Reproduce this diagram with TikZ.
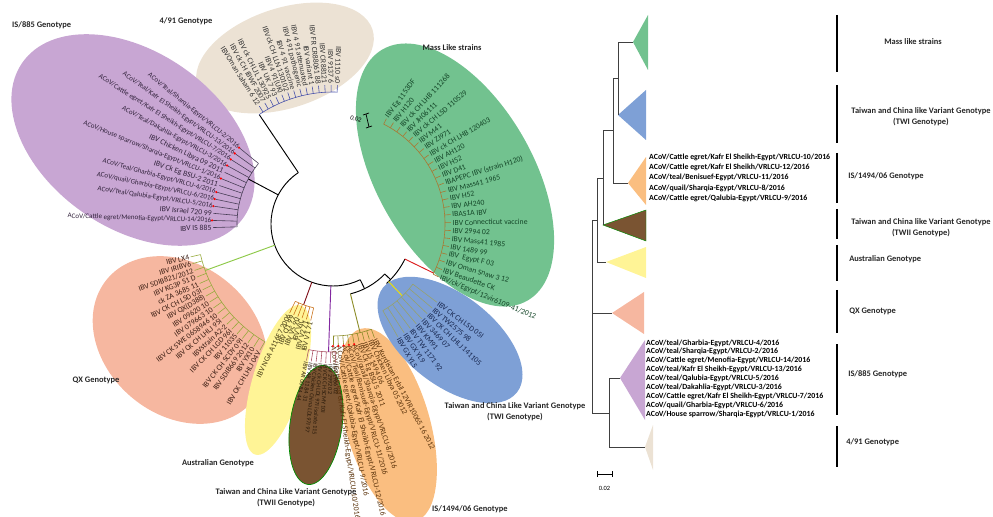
\documentclass[tikz,border=0pt]{standalone}
\usepackage{fontspec}
\setmainfont{Carlito}
\usetikzlibrary{positioning}
% clade fills
\definecolor{c885}{RGB}{200,166,211}
\definecolor{c491}{RGB}{236,226,212}
\definecolor{cmass}{RGB}{114,194,143}
\definecolor{ctwi}{RGB}{126,160,214}
\definecolor{cqx}{RGB}{246,183,160}
\definecolor{caus}{RGB}{255,244,150}
\definecolor{ctwii}{RGB}{122,84,50}
\definecolor{c1494}{RGB}{250,190,128}
% branches
\definecolor{b885}{RGB}{70,60,85}
\definecolor{b491}{RGB}{70,80,170}
\definecolor{bmass}{RGB}{170,120,50}
\definecolor{bqx}{RGB}{150,170,60}
\definecolor{btwi}{RGB}{150,160,110}
\definecolor{baus}{RGB}{200,110,20}
\definecolor{btwii}{RGB}{170,80,100}
\definecolor{b1494}{RGB}{140,140,40}
% stems
\definecolor{smass}{RGB}{220,30,30}
\definecolor{stwi}{RGB}{240,225,0}
\definecolor{stwii}{RGB}{130,40,160}
\definecolor{saus}{RGB}{130,20,30}
\definecolor{sqx}{RGB}{140,200,70}
% leaf text
\definecolor{t885}{RGB}{50,35,60}
\definecolor{t491}{RGB}{50,50,50}
\definecolor{tmass}{RGB}{20,70,40}
\definecolor{ttwi}{RGB}{25,40,80}
\definecolor{tqx}{RGB}{60,30,20}
\definecolor{taus}{RGB}{70,60,20}
\definecolor{ttwii}{RGB}{40,25,10}
\definecolor{t1494}{RGB}{90,50,10}
\newcommand\acov{\fontsize{6}{6}\selectfont}
\begin{document}
\begin{tikzpicture}[x=0.03cm,y=-0.03cm,
  leaf/.style={font=\fontsize{6.6}{7}\selectfont,inner sep=0.4pt},
  rleaf/.style={font=\bfseries\fontsize{6.7}{7}\selectfont,inner sep=0pt,anchor=west},
  grp/.style={font=\bfseries\fontsize{7.2}{9.4}\selectfont,inner sep=0pt,text=black!85},
  twig/.style={line width=0.5pt},
  spine/.style={line width=0.8pt,black},
  stem/.style={line width=0.8pt},
  bar/.style={line width=1pt,black}]
\useasboundingbox (0,0) rectangle (993,517);

% clade ellipses
\fill[c491,rotate around={18:(285,58)}] (285,58) ellipse (92 and 50);
\fill[c885,rotate around={-35:(133,140)}] (133,140) ellipse (135 and 88);
\fill[cqx,rotate around={-40:(180,340)}] (180,340) ellipse (95 and 75);
\fill[caus,rotate around={73:(278,380)}] (278,380) ellipse (78 and 25);
\fill[c1494,rotate around={-74:(388,425)}] (388,425) ellipse (100 and 42);
\filldraw[ctwii,draw=green!55!black,line width=0.6pt,rotate around={82:(316,425)}] (316,425) ellipse (60 and 26);
\fill[ctwi,rotate around={-38:(450,340)}] (450,340) ellipse (85 and 45);
\fill[cmass,rotate around={-60:(455,175)}] (455,175) ellipse (145 and 78);

% circular tree, centre of the circle at (333,224)
\begin{scope}[shift={(333,224)},y=0.03cm]
\draw[spine] (124:62) arc[start angle=124,end angle=296,radius=62];
\draw[spine] (124:62) -- (124:132);
\draw[spine] (152:62) -- (152:96);
\draw[spine] (296:62) -- (296:72);
\draw[spine] (284:72) arc[start angle=284,end angle=316,radius=72];
\draw[spine] (316:72) -- (316:80);
\draw[spine] (312:80) arc[start angle=312,end angle=334,radius=80];
\draw[stem,sqx] (200:62) -- (200:136);
\draw[stem,saus] (250:62) -- (250:86);
\draw[stem,stwii] (268:62) -- (268:128);
\draw[stem,b1494] (284:72) -- (284:112);
\draw[stem,stwi] (314:80) -- (314:100);
\draw[stem,smass] (334:80) -- (334:112);

% IS/885
\draw[twig,b885] (140.9:96) arc[start angle=140.9,end angle=181.7,radius=96];
\foreach \t [count=\i] in {{\acov ACoV/Teal/Sharqia-Egypt/VRLCU-2/2016},
  {\acov ACoV/Teal/Kafr El Sheikh-Egypt/VRLCU-13/2016},
  {\acov ACoV/Cattle egret/Kafr El Sheikh-Egypt/VRLCU-7/2016},
  {\acov ACoV/Teal/Dakahlia-Egypt/VRLCU-3/2016},{IBV Chicken Libya 09 2011},
  {\acov ACoV/House sparrow/Sharqia-Egypt/VRLCU-1/2016},{IBV Ck Eg BSU-2 2011},
  {\acov ACoV/Teal/Gharbia-Egypt/VRLCU-4/2016},{\acov ACoV/quail/Gharbia-Egypt/VRLCU-6/2016},
  {\acov ACoV/Teal/Qalubia-Egypt/VRLCU-5/2016},{IBV Israel 720 99},
  {\acov ACoV/Cattle egret/Menofia-Egypt/VRLCU-14/2016},{IBV IS 885}}{
  \pgfmathsetmacro\ang{137.5+3.4*\i}
  \draw[twig,b885] (\ang:96) -- (\ang:120);
  \node[leaf,text=t885,anchor=east,rotate=\ang+180] (l885-\i) at (\ang:121) {\t};
}
% 4/91
\draw[twig,b491] (88:132) arc[start angle=88,end angle=124,radius=132];
\foreach \t [count=\i] in {{IBVOman Saham 6 12},{IBV ck CH IBWF 2007},
  {IBV ck CH LJL 130925},{IBV UK 7 93},{IBV 4 91(UK)},{IBV ck CH LLN 130102},
  {IBV 4 91 vaccine},{IBV 4 91 pathogenic},{IBV 4 91 attenuated},
  {IBV variant 1},{IBV FR CR88061 88},{IBV CR88121},{IBV 9137 6},{IBV 1110 s0}}{
  \pgfmathsetmacro\ang{124.6-2.6*\i}
  \draw[twig,b491] (\ang:132) -- (\ang:139);
  \node[leaf,text=t491,anchor=east,rotate=\ang+180] (l491-\i) at (\ang:140) {\t};
}
% Mass like
\draw[twig,bmass] (-26.6:112) arc[start angle=-26.6,end angle=63.1,radius=112];
\foreach \t [count=\i] in {{IBV Eg 1153DF},{IBV H120},{IBV ck CH LHB 111268},
  {IBV JH06111},{IBV ck CH LSD 110529},{IBV M41},{IBV ZJ971},
  {IBV ck CH LHB 120403},{IBV AH120},{IBV H52},{IBV D41},
  {IBAPEPC IBV (strain H120)},{IBV Mass41 1965},{IBV H52},{IBV AH240},
  {IBAS1A IBV},{IBV Connecticut vaccine},{IBV 2994 02},{IBV Mass41 1985},
  {IBV 1489 99},{IBV \ Egypt F 03},{IBV Oman Snaw 3 12},{IBV Beaudette CK},
  {IBV/ck/Egypt/12vir6109-41/2012}}{
  \pgfmathsetmacro\ang{67-3.9*\i}
  \draw[twig,bmass] (\ang:112) -- (\ang:118);
  \node[leaf,text=tmass,anchor=west,rotate=0.85*\ang] (lmass-\i) at (\ang:119) {\t};
}
% TWI
\draw[twig,btwi] (-60.1:100) arc[start angle=-60.1,end angle=-37,radius=100];
\foreach \t [count=\i] in {{IBV CK CH LSD 05I},{IBV TW2575 98},
  {IBV CK CH LHLJ 141105},{IBV 3469 07},{IBV KM91},{IBV TW 1171 92},
  {IBV GX YL9},{IBV GX YL5}}{
  \pgfmathsetmacro\ang{-33.7-3.3*\i}
  \draw[twig,btwi] (\ang:100) -- (\ang:130);
  \node[leaf,text=ttwi,anchor=west,rotate=\ang] (ltwi-\i) at (\ang:131) {\t};
}
% IS/1494/06
\draw[twig,b1494] (-90:112) arc[start angle=-90,end angle=-70,radius=112];
\foreach \t [count=\i] in {{ACoV/Cattle egret/Kafr El Sheikh-Egypt/VRLCU-10/2016},
  {ACoV/Cattle egret/Qalubia-Egypt/VRLCU-9/2016},
  {ACoV/Cattle egret/Kafr El Sheikh-Egypt/VRLCU-12/2016},
  {ACoV/Teal/Benisuef-Egypt/VRLCU-11/2016},{ACoV/quail/Sharqia-Egypt/VRLCU-8/2016},
  {IBV Ck Eg BSU 5 2011},{IBV IS 1494 06},{IBV Chicken Libya 05 2012},
  {IBV Kurdistan Erbil 12VIR10065 16 2012}}{
  \pgfmathsetmacro\ang{-92.5+2.5*\i}
  \draw[twig,b1494] (\ang:112) -- (\ang:121);
  \node[leaf,text=t1494,anchor=west,rotate=\ang+8] (l1494-\i) at (\ang:122) {\t};
}
% TWII
\draw[twig,btwii] (-101:128) arc[start angle=-101,end angle=-89,radius=128];
\foreach \t [count=\i] in {{IBV 1966 02},{IBV 2992 02},{IBV CK CH SCMY 10I},
  {IBV ck CH LDL 97I isolate 115},{IBV Chicken China LDL97I 97},
  {IBV AR 11 84 31},{IBV AR 00 84 44}}{
  \pgfmathsetmacro\ang{-87-2*\i}
  \draw[twig,btwii] (\ang:128) -- (\ang:139);
  \node[leaf,font=\fontsize{5.2}{6}\selectfont,text=ttwii,anchor=west,rotate=\ang] (ltwii-\i) at (\ang:140) {\t};
}
% Australian
\draw[twig,baus] (-116:86) arc[start angle=-116,end angle=-103,radius=86];
\foreach \t [count=\i] in {{IBV V1 71},{IBV V2 71},{IBV VIC},{IBV VS 90},
  {IBV Q1 99},{IBV NGA A116E7 2006}}{
  \pgfmathsetmacro\ang{-100.4-2.6*\i}
  \draw[twig,baus] (\ang:86) -- (\ang:99);
  \node[leaf,text=taus,anchor=east,rotate=\ang+180] (laus-\i) at (\ang:100) {\t};
}
% QX
\draw[twig,bqx] (193:136) arc[start angle=193,end angle=240,radius=136];
\foreach \t [count=\i] in {{IBV LX4},{IBV IRIBV6},{IBV SDIB821/2012},
  {IBV KG3P S1 D},{ck ZA 3685 11},{IBV CK CH LSD 03I},{IBV QX(D388)},
  {IBV 09620 10},{IBV 079663 10},{IBV CK SWE 0658946 10},{IBV CK CH LHLJ 95I},
  {IBVstrain A2-2},{IBV CK CH LGD 96I},{IBV 11035},{IBV CK CH SCDY 09I},
  {IBV SDIB669 2012},{IBV YX10},{IBV CK CH LHLJ 04V}}{
  \pgfmathsetmacro\ang{190.24+2.76*\i}
  \draw[twig,bqx] (\ang:136) -- (\ang:146);
  \node[leaf,text=tqx,anchor=east,rotate=\ang+180] (lqx-\i) at (\ang:147) {\t};
}
\end{scope}

% sequences of this study
\foreach \i in {1,2,3,4,6,8,9,10,12} \fill[red] (l885-\i.east) circle (1.2);
\foreach \i in {1,...,5} \fill[red] (l1494-\i.west) circle (1.2);

% scale, circular tree
\draw[line width=0.6pt] (366,114) -- (369,127) (363,115) -- (369,113) (366,128) -- (372,126);
\node[font=\fontsize{5.5}{6}\selectfont,rotate=-18] (s02) at (356,119) {0.02};

% genotype names, circular tree
\node[grp,anchor=west] (g885) at (12,25) {IS/885 Genotype};
\node[grp] (g491) at (186,21) {4/91 Genotype};
\node[grp] (gmass) at (452,48) {Mass Like strains};
\node[grp] (gqx) at (96,380) {QX Genotype};
\node[grp] (gaus) at (218,463) {Australian Genotype};
\node[grp,align=center] (gtwii) at (286,498) {Taiwan and China Like Variant Genotype\\(TWII Genotype)};
\node[grp,anchor=west] (g1494) at (432,509) {IS/1494/06 Genotype};
\node[grp,align=center] (gtwi) at (515,412) {Taiwan and China Like Variant Genotype\\(TWI Genotype)};

% collapsed tree
\coordinate (tMass) at (633,42);
\coordinate (tTWI) at (618,115);
\coordinate (t1494) at (628,183);
\coordinate (tTWII) at (603,225);
\coordinate (tAus) at (606,262);
\coordinate (tQX) at (612,313);
\coordinate (t885) at (620,378);
\coordinate (t491) at (645,447);
\coordinate (nA) at (618,78);
\coordinate (nB) at (613,130);
\coordinate (nC) at (603,178);
\coordinate (nD) at (597,220);
\coordinate (nR) at (592,313);
\coordinate (nF) at (609,413);
\fill[cmass] (tMass) -- (648,15) -- (648,70) -- cycle;
\fill[ctwi] (tTWI) -- (646,90) -- (646,140) -- cycle;
\fill[c1494] (t1494) -- (646,157) -- (646,205) -- cycle;
\filldraw[ctwii,draw=green!55!black,line width=0.4pt] (tTWII) -- (646,210) -- (646,241) -- cycle;
\fill[caus] (tAus) -- (646,247) -- (646,278) -- cycle;
\fill[cqx] (tQX) -- (644,292) -- (644,334) -- cycle;
\fill[c885] (t885) -- (645,340) -- (645,420) -- cycle;
\fill[c491] (t491) -- (653,425) -- (653,470) -- cycle;
\begin{scope}[line width=0.7pt,black!75]
\draw (tMass) -| (nA) |- (tTWI);
\draw (nA) -| (nB) |- (t1494);
\draw (nB) -| (nC) |- (tTWII);
\draw (nC) -| (nD) |- (tAus);
\draw (nD) -| (nR) |- (nF);
\draw (nR) -- (tQX);
\draw (t885) -| (nF) |- (t491);
\end{scope}
\draw[line width=0.7pt] (597,474) -- (612,474) (597,471) -- (597,477) (612,471) -- (612,477);
\node[font=\fontsize{5.5}{6}\selectfont] (r02) at (604.5,488) {0.02};

\foreach \t [count=\i] in {{ACoV/Cattle egret/Kafr El Sheikh-Egypt/VRLCU-10/2016},
  {ACoV/Cattle egret/Kafr El Sheikh/VRLCU-12/2016},{ACoV/teal/Benisuef-Egypt/VRLCU-11/2016},
  {ACoV/quail/Sharqia-Egypt/VRLCU-8/2016},{ACoV/Cattle egret/Qalubia-Egypt/VRLCU-9/2016}}
  \node[rleaf] (r1494-\i) at (649,147+10.3*\i) {\t};
\foreach \t [count=\i] in {{ACoV/teal/Gharbia-Egypt/VRLCU-4/2016},
  {ACoV/teal/Sharqia-Egypt/VRLCU-2/2016},{ACoV/Cattle egret/Menofia-Egypt/VRLCU-14/2016},
  {ACoV/teal/Kafr El Sheikh-Egypt/VRLCU-13/2016},{ACoV/teal/Qalubia-Egypt/VRLCU-5/2016},
  {ACoV/teal/Dakahlia-Egypt/VRLCU-3/2016},{ACoV/Cattle egret/Kafr El Sheikh-Egypt/VRLCU-7/2016},
  {ACoV/quail/Gharbia-Egypt/VRLCU-6/2016},{ACoV/House sparrow/Sharqia-Egypt/VRLCU-1/2016}}
  \node[rleaf] (r885-\i) at (646,334.1+8.9*\i) {\t};

% genotype bars
\foreach \ya/\yb in {15/72,85/143,153/203,209/239,245/281,290/333,344/415,426/467}
  \draw[bar] (837,\ya) -- (837,\yb);
\node[grp] (rmass) at (913,42) {Mass like strains};
\node[grp,align=center] (rtwi) at (921,117) {Taiwan and China like Variant Genotype\\(TWI Genotype)};
\node[grp,anchor=west] (r1494) at (848,176) {IS/1494/06 Genotype};
\node[grp,align=center] (rtwii) at (921,228) {Taiwan and China like Variant Genotype\\(TWII Genotype)};
\node[grp,anchor=west] (raus) at (849,259) {Australian Genotype};
\node[grp,anchor=west] (rqx) at (849,311) {QX Genotype};
\node[grp,anchor=west] (r885) at (848,374) {IS/885 Genotype};
\node[grp,anchor=west] (r491) at (846,442) {4/91 Genotype};
\end{tikzpicture}
\end{document}
